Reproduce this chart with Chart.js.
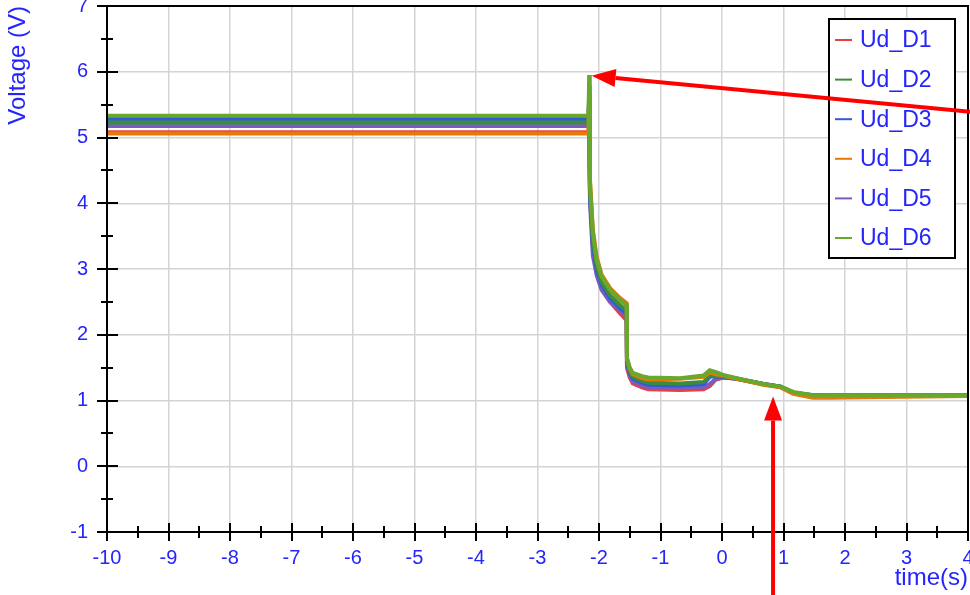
<!DOCTYPE html>
<html>
<head>
<meta charset="utf-8">
<script src="https://cdn.jsdelivr.net/npm/chart.js@4.4.0/dist/chart.umd.min.js"></script>
<style>
  html, body { margin: 0; padding: 0; background: #fff; overflow: hidden; }
  #wrap { width: 970px; height: 595px; position: relative; }
</style>
</head>
<body>
<div id="wrap"><canvas id="chart" width="970" height="595"></canvas></div>
<script>
// --- Data ---
const seriesNames = ["Ud_D1", "Ud_D2", "Ud_D3", "Ud_D4", "Ud_D5", "Ud_D6"];
const seriesColors = ["#e84040", "#3c8c3c", "#2e5cd6", "#e8780a", "#7a5cc0", "#68a82c"];

const timeS = [-10, -2.17, -2.16, -2.15, -2.146, -2.1, -2.037, -1.956, -1.82, -1.66, -1.55, -1.545,
  -1.5, -1.45, -1.3, -1.2, -0.68, -0.3, -0.2, -0.1, 0.02, 0.24, 0.67, 0.95, 1.16, 1.48, 1.76, 2.3, 4];

const udD1 = [5.08, 5.08, 5.55, 4.4, 4.1, 3.35, 2.95, 2.7, 2.5, 2.33, 2.22, 1.5,
  1.35, 1.26, 1.2, 1.17, 1.16, 1.17, 1.22, 1.32, 1.35, 1.33, 1.25, 1.21, 1.12, 1.07, 1.07, 1.07, 1.07];
const udD2 = [5.23, 5.23, 5.7, 4.5, 4.2, 3.45, 3.05, 2.8, 2.6, 2.45, 2.37, 1.6,
  1.45, 1.36, 1.3, 1.27, 1.26, 1.28, 1.38, 1.37, 1.37, 1.33, 1.25, 1.21, 1.12, 1.08, 1.08, 1.08, 1.08];
const udD3 = [5.28, 5.28, 5.65, 4.45, 4.15, 3.4, 3.0, 2.76, 2.56, 2.41, 2.32, 1.57,
  1.42, 1.33, 1.27, 1.24, 1.23, 1.25, 1.36, 1.37, 1.36, 1.33, 1.25, 1.21, 1.12, 1.08, 1.08, 1.08, 1.08];
const udD4 = [5.06, 5.06, 5.8, 4.65, 4.35, 3.6, 3.18, 2.91, 2.71, 2.56, 2.48, 1.63,
  1.48, 1.4, 1.34, 1.32, 1.33, 1.36, 1.43, 1.4, 1.38, 1.33, 1.24, 1.2, 1.1, 1.04, 1.04, 1.05, 1.07];
const udD5 = [5.175, 5.175, 5.6, 4.3, 4.0, 3.2, 2.9, 2.68, 2.5, 2.37, 2.28, 1.53,
  1.38, 1.29, 1.23, 1.2, 1.19, 1.2, 1.25, 1.33, 1.35, 1.33, 1.25, 1.21, 1.12, 1.07, 1.07, 1.07, 1.07];
const udD6 = [5.33, 5.33, 5.95, 4.6, 4.3, 3.55, 3.14, 2.88, 2.68, 2.53, 2.45, 1.65,
  1.5, 1.42, 1.37, 1.35, 1.34, 1.38, 1.46, 1.43, 1.39, 1.34, 1.25, 1.21, 1.13, 1.08, 1.08, 1.08, 1.08];

const seriesValues = [udD1, udD2, udD3, udD4, udD5, udD6];
// which series sits on top (lower = drawn later)
const drawOrder = [5, 2, 3, 1, 4, 0];

const xMin = -10, xMax = 4;
const yMin = -1, yMax = 7;

// Red annotation arrows, in data units: [tailX, tailY, tipX, tipY]
const arrowSpike = [4.05, 5.39, -2.12, 5.94];
const arrowSettle = [0.83, -2.1, 0.83, 1.06];

const blue = "#2424ff";
const fontFam = "'Liberation Sans', Arial, sans-serif";

// --- Decoration plugin: frame, crossing ticks, legend box, arrows ---
function drawArrow(ctx, xs, ys, arr) {
  let x1 = xs.getPixelForValue(arr[0]), y1 = ys.getPixelForValue(arr[1]);
  let x2 = xs.getPixelForValue(arr[2]), y2 = ys.getPixelForValue(arr[3]);
  let ang = Math.atan2(y2 - y1, x2 - x1);
  let headLen = 24, headW = 9;
  let bx = x2 - headLen * Math.cos(ang), by = y2 - headLen * Math.sin(ang);
  ctx.strokeStyle = "#ff0000";
  ctx.fillStyle = "#ff0000";
  ctx.lineWidth = 4;
  ctx.beginPath();
  ctx.moveTo(x1, y1);
  ctx.lineTo(bx, by);
  ctx.stroke();
  ctx.beginPath();
  ctx.moveTo(x2, y2);
  ctx.lineTo(bx + headW * Math.sin(ang), by - headW * Math.cos(ang));
  ctx.lineTo(bx - headW * Math.sin(ang), by + headW * Math.cos(ang));
  ctx.closePath();
  ctx.fill();
}

const decorPlugin = {
  id: "decor",
  afterDraw(chart) {
    let ctx = chart.ctx;
    let xs = chart.scales.x, ys = chart.scales.y;
    let a = chart.chartArea;
    ctx.save();
    ctx.strokeStyle = "#000";
    ctx.lineWidth = 2;
    ctx.beginPath();
    ctx.rect(a.left, a.top, a.right - a.left, a.bottom - a.top);
    ctx.stroke();

    // x ticks cross the bottom axis
    ctx.beginPath();
    for (let i = xMin * 2; i <= xMax * 2; i++) {
      let px = Math.round(xs.getPixelForValue(i / 2));
      let h = i % 2 === 0 ? 9 : 6;
      ctx.moveTo(px, a.bottom - h);
      ctx.lineTo(px, a.bottom + h);
    }
    // y ticks cross the left axis
    for (let i = yMin * 2; i <= yMax * 2; i++) {
      let py = Math.round(ys.getPixelForValue(i / 2));
      let w = i % 2 === 0 ? 10 : 6;
      ctx.moveTo(a.left - w, py);
      ctx.lineTo(a.left + w + (i % 2 === 0 ? 1 : 0), py);
    }
    ctx.stroke();

    // legend box
    let lx = 829, ly = 19, lw = 126, lh = 239;
    ctx.fillStyle = "#fff";
    ctx.fillRect(lx, ly, lw, lh);
    ctx.strokeRect(lx, ly, lw, lh);
    ctx.font = "23px " + fontFam;
    ctx.textBaseline = "middle";
    seriesNames.forEach((name, i) => {
      let cy = ly + 21 + i * 39.6;
      ctx.strokeStyle = seriesColors[i];
      ctx.lineWidth = 2;
      ctx.beginPath();
      ctx.moveTo(835, cy);
      ctx.lineTo(852, cy);
      ctx.stroke();
      ctx.fillStyle = blue;
      ctx.fillText(name, 860, cy + 1);
    });

    drawArrow(ctx, xs, ys, arrowSpike);
    drawArrow(ctx, xs, ys, arrowSettle);
    ctx.restore();
  }
};

// --- Chart ---
let datasets = seriesNames.map((name, i) => ({
  label: name,
  data: timeS.map((t, k) => ({ x: t, y: seriesValues[i][k] })),
  borderColor: seriesColors[i],
  backgroundColor: seriesColors[i],
  borderWidth: 4,
  pointRadius: 0,
  tension: 0,
  fill: false,
  order: drawOrder[i]
}));

const tickFont = { family: fontFam, size: 20 };
const titleFont = { family: fontFam, size: 24 };

new Chart(document.getElementById("chart").getContext("2d"), {
  type: "line",
  data: { datasets: datasets },
  plugins: [decorPlugin],
  options: {
    responsive: false,
    animation: false,
    events: [],
    layout: { padding: { top: 6, right: 2, left: 0, bottom: 0 } },
    plugins: { legend: { display: false }, tooltip: { enabled: false } },
    scales: {
      x: {
        type: "linear",
        min: xMin, max: xMax,
        border: { display: false },
        grid: { color: "#d4d4d4", lineWidth: 1.5, drawTicks: false },
        ticks: { stepSize: 1, color: blue, font: tickFont, padding: 14, maxRotation: 0 },
        title: { display: true, text: "time(s)", align: "end", color: blue,
                 font: titleFont, padding: { top: 0, bottom: 2 } },
        afterFit(scale) { scale.height = 63; scale.paddingLeft = 0; scale.paddingRight = 0; }
      },
      y: {
        type: "linear",
        min: yMin, max: yMax,
        border: { display: false },
        grid: { color: "#d4d4d4", lineWidth: 1.5, drawTicks: false },
        ticks: { stepSize: 1, color: blue, font: tickFont, padding: 19 },
        title: { display: true, text: "Voltage (V)", align: "end", color: blue,
                 font: titleFont, padding: { top: 4, bottom: 0 } },
        afterFit(scale) { scale.width = 107; scale.paddingTop = 0; scale.paddingBottom = 0; }
      }
    }
  }
});
</script>
</body>
</html>
